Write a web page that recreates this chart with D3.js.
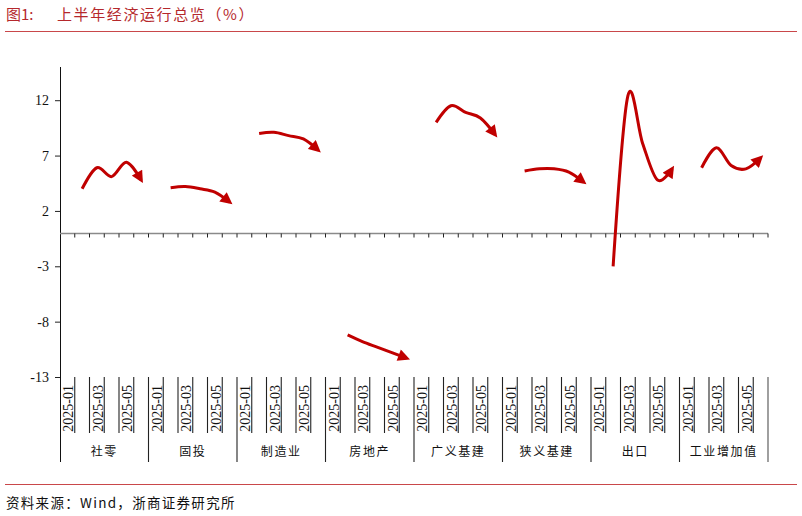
<!DOCTYPE html>
<html>
<head>
<meta charset="utf-8">
<script src="https://cdn.jsdelivr.net/npm/d3@7"></script>
<style>
  body { margin: 0; background: #fff; }
  svg { display: block; }
</style>
</head>
<body>
<svg width="802" height="516"></svg>
<script>
// groups along the category axis, each with 6 months (01 is empty, Jan-Feb merged into 02)
const groups = ['社零', '固投', '制造业', '房地产', '广义基建', '狭义基建', '出口', '工业增加值'];
const months = ['2025-01', '2025-02', '2025-03', '2025-04', '2025-05', '2025-06'];
const shownMonths = ['2025-01', '2025-03', '2025-05'];

const retail = [null, 4.0, 5.9, 5.1, 6.4, 4.8];
const fixedInv = [null, 4.1, 4.2, 4.0, 3.7, 2.8];
const manufacturing = [null, 9.0, 9.1, 8.8, 8.5, 7.5];
const realEstate = [null, -9.2, -9.8, -10.3, -10.8, -11.3];
const infraBroad = [null, 10.0, 11.5, 10.9, 10.4, 8.9];
const infraNarrow = [null, 5.6, 5.8, 5.8, 5.5, 4.6];
const exports = [null, -3.0, 12.4, 8.1, 4.8, 5.8];
const industry = [null, 5.9, 7.7, 6.1, 5.8, 6.8];

const series = [retail, fixedInv, manufacturing, realEstate, infraBroad, infraNarrow, exports, industry];
const yTicks = [12, 7, 2, -3, -8, -13];

const red = '#c00000';
const serif = '"Liberation Serif", "Times New Roman", serif';
const cjk = '"Noto Sans CJK SC", sans-serif';
const svg = d3.select('svg');

// header + footer
svg.append('text')
  .attr('x', 6).attr('y', 20)
  .attr('fill', '#b5282c')
  .style('font-family', cjk)
  .style('font-size', '15px')
  .text('图1:');
svg.append('text')
  .attr('x', 57).attr('y', 20)
  .attr('fill', '#b5282c')
  .style('font-family', cjk)
  .style('font-size', '15px')
  .style('letter-spacing', '1.6px')
  .text('上半年经济运行总览（%）');
svg.append('line').attr('x1', 5).attr('x2', 797).attr('y1', 31.5).attr('y2', 31.5)
  .attr('stroke', '#c9474a').attr('stroke-width', 1);
svg.append('line').attr('x1', 5).attr('x2', 797).attr('y1', 484.5).attr('y2', 484.5)
  .attr('stroke', '#c9474a').attr('stroke-width', 1);
svg.append('text')
  .attr('x', 6).attr('y', 508)
  .attr('fill', '#111')
  .style('font-family', cjk)
  .style('font-size', '13.5px')
  .style('letter-spacing', '1.3px')
  .text('资料来源：Wind，浙商证券研究所');

// scales
const cats = [];
groups.forEach(g => months.forEach(m => cats.push(g + '|' + m)));
const x = d3.scaleBand().domain(cats).range([60, 768]).padding(0);
const y = d3.scaleLinear().domain([-13, 15]).range([377, 67]);

// y axis
const yAxis = svg.append('g').attr('transform', 'translate(60,0)')
  .call(d3.axisLeft(y).tickValues(yTicks).tickSize(5).tickPadding(6).tickFormat(d => String(d)));
yAxis.select('.domain').remove();
yAxis.selectAll('line').attr('stroke', '#222');
yAxis.selectAll('text')
  .attr('fill', '#111')
  .style('font-family', serif)
  .style('font-size', '14px');
svg.append('line').attr('x1', 60.5).attr('x2', 60.5).attr('y1', 67).attr('y2', 462)
  .attr('stroke', '#111').attr('stroke-width', 1);

// zero line with category ticks
const y0 = Math.round(y(0)) + 0.5;
svg.append('line').attr('x1', 60).attr('x2', 768).attr('y1', y0).attr('y2', y0)
  .attr('stroke', '#8a8a8a').attr('stroke-width', 1.6);
svg.append('g').selectAll('line')
  .data(cats)
  .join('line')
  .attr('x1', d => x(d) + x.bandwidth()).attr('x2', d => x(d) + x.bandwidth())
  .attr('y1', y0).attr('y2', y0 + 4)
  .attr('stroke', '#222');

// label area at the bottom: lines at every category boundary
const yLow = y(-13);
const labelG = svg.append('g');
labelG.selectAll('line.cat')
  .data(cats)
  .join('line')
  .attr('class', 'cat')
  .attr('x1', d => x(d) + x.bandwidth()).attr('x2', d => x(d) + x.bandwidth())
  .attr('y1', yLow).attr('y2', (d, i) => (i % 6 === 5) ? 462 : 433)
  .attr('stroke', (d, i) => i === cats.length - 1 ? '#888' : '#222')
  .attr('stroke-width', (d, i) => i === cats.length - 1 ? 1.6 : 1.1);

labelG.selectAll('text.month')
  .data(cats.filter(c => shownMonths.includes(c.split('|')[1])))
  .join('text')
  .attr('class', 'month')
  .attr('transform', d => `translate(${x(d) + x.bandwidth() - 1.5},${yLow + 8}) rotate(-90)`)
  .attr('text-anchor', 'end')
  .attr('fill', '#111')
  .style('font-family', serif)
  .style('font-size', '14px')
  .text(d => d.split('|')[1]);

labelG.selectAll('text.group')
  .data(groups)
  .join('text')
  .attr('class', 'group')
  .attr('x', g => x(g + '|' + months[0]) + x.bandwidth() * 3)
  .attr('y', 456)
  .attr('text-anchor', 'middle')
  .attr('fill', '#111')
  .style('font-family', cjk)
  .style('font-size', '12px')
  .style('letter-spacing', '1.6px')
  .text(g => g);

// arrow head
svg.append('defs').append('marker')
  .attr('id', 'arrow')
  .attr('viewBox', '0 0 10 10')
  .attr('refX', 7).attr('refY', 5)
  .attr('markerWidth', 13).attr('markerHeight', 12)
  .attr('markerUnits', 'userSpaceOnUse')
  .attr('orient', 'auto')
  .append('path')
  .attr('d', 'M0,0 L10,5 L0,10 Z')
  .attr('fill', red);

const line = d3.line()
  .defined(d => d.v !== null)
  .x(d => x(d.c) + x.bandwidth() / 2)
  .y(d => y(d.v))
  .curve(d3.curveCatmullRom.alpha(0));

series.forEach((vals, gi) => {
  const pts = vals.map((v, mi) => ({ c: groups[gi] + '|' + months[mi], v: v }))
    .filter(d => d.v !== null);
  svg.append('path')
    .datum(pts)
    .attr('d', line)
    .attr('fill', 'none')
    .attr('stroke', red)
    .attr('stroke-width', 3)
    .attr('marker-end', 'url(#arrow)');
});
</script>
</body>
</html>
